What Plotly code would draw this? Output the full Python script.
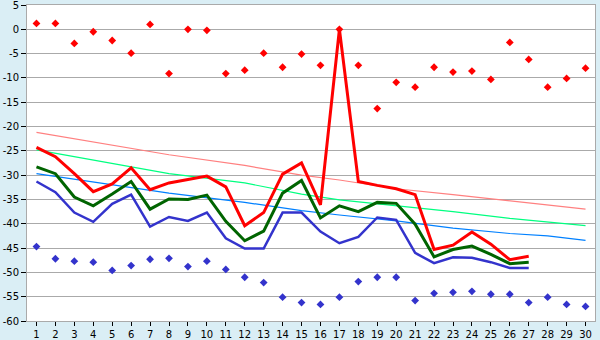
import plotly.graph_objects as go

days = list(range(1, 31))

# daily highs / lows (scatter markers)
high_pts = [1.2, 1.2, -2.9, -0.5, -2.3, -4.9, 1.0, -9.1, 0.0, -0.2,
            -9.1, -8.4, -4.9, -7.8, -5.1, -7.4, 0.0, -7.4, -16.3, -10.9,
            -11.9, -7.8, -8.8, -8.6, -10.3, -2.7, -6.2, -11.9, -10.1, -8.0]
low_pts = [-44.7, -47.2, -47.7, -47.9, -49.6, -48.6, -47.3, -47.1, -48.8, -47.7,
           -49.4, -51.0, -52.1, -55.1, -56.2, -56.6, -55.1, -51.9, -51.0, -51.0,
           -55.8, -54.3, -54.1, -53.9, -54.5, -54.5, -56.2, -55.1, -56.6, -57.0]

# measured curves (days 1..27)
line_days = list(range(1, 28))
red_line = [-24.3, -26.2, -29.7, -33.4, -31.8, -28.5, -33.0, -31.6, -30.9, -30.2,
            -32.4, -40.4, -37.7, -29.8, -27.5, -36.1, 0.0, -31.3, -32.1, -32.8,
            -34.0, -45.3, -44.4, -41.7, -44.2, -47.4, -46.7]
green_line = [-28.3, -29.7, -34.5, -36.3, -33.9, -31.3, -37.0, -34.9, -35.0, -34.1,
              -39.5, -43.5, -41.5, -33.7, -31.1, -38.8, -36.3, -37.5, -35.6, -35.8,
              -40.1, -46.8, -45.3, -44.6, -46.3, -48.2, -47.9]
blue_line = [-31.3, -33.5, -37.7, -39.6, -35.9, -34.0, -40.6, -38.6, -39.4, -37.7,
             -43.0, -45.1, -45.1, -37.7, -37.7, -41.6, -44.0, -42.7, -38.7, -39.2,
             -46.0, -48.1, -46.9, -47.0, -47.9, -49.1, -49.1]

# trend curves
trend_days = [1, 8, 12, 15, 17, 20, 23, 26, 28, 30]
pink_trend = [-21.2, -25.8, -28.0, -30.0, -31.0, -32.8, -34.0, -35.3, -36.1, -37.0]
spring_trend = [-24.8, -29.7, -31.6, -33.9, -35.1, -36.3, -37.5, -38.9, -39.7, -40.4]
azure_trend = [-29.7, -33.7, -35.6, -37.3, -38.2, -39.4, -40.9, -42.0, -42.5, -43.4]

y_ticks = list(range(-60, 6, 5))
y_labels = [str(v) for v in y_ticks]

fig = go.Figure()

for ys, col in [(pink_trend, "#ff8080"), (spring_trend, "#00ff80"), (azure_trend, "#0080ff")]:
    fig.add_trace(go.Scatter(x=trend_days, y=ys, mode="lines",
                             line=dict(color=col, width=1.2), hoverinfo="skip"))

fig.add_trace(go.Scatter(x=line_days, y=blue_line, mode="lines",
                         line=dict(color="#3333cc", width=2.5)))
fig.add_trace(go.Scatter(x=line_days, y=green_line, mode="lines",
                         line=dict(color="#006400", width=3)))
fig.add_trace(go.Scatter(x=line_days, y=red_line, mode="lines",
                         line=dict(color="#ff0000", width=3)))

fig.add_trace(go.Scatter(x=days, y=high_pts, mode="markers",
                         marker=dict(symbol="diamond", size=6, color="#ff0000")))
fig.add_trace(go.Scatter(x=days, y=low_pts, mode="markers",
                         marker=dict(symbol="diamond", size=6, color="#3333cc")))

fig.update_layout(
    width=600, height=340,
    margin=dict(l=27, r=5, t=5, b=19),
    paper_bgcolor="#daeef5",
    plot_bgcolor="#ffffff",
    showlegend=False,
    font=dict(family="DejaVu Sans", size=10, color="#000000"),
)
fig.update_xaxes(
    range=[0.5, 30.5], tickvals=days, ticktext=[str(d) for d in days],
    showgrid=False, zeroline=False, automargin=False,
    showline=True, linecolor="#aaaaaa", linewidth=1, mirror=True,
    ticks="outside", ticklen=4, tickcolor="#000000",
    ticklabeloverflow="allow",
)
fig.update_yaxes(
    range=[-60, 5], tickvals=y_ticks, ticktext=y_labels,
    showgrid=True, gridcolor="#aaaaaa", gridwidth=1, zeroline=False, automargin=False,
    showline=True, linecolor="#aaaaaa", linewidth=1, mirror=True,
    ticks="outside", ticklen=5, tickcolor="#000000",
    ticklabeloverflow="allow",
)

fig.write_html("out.html")
